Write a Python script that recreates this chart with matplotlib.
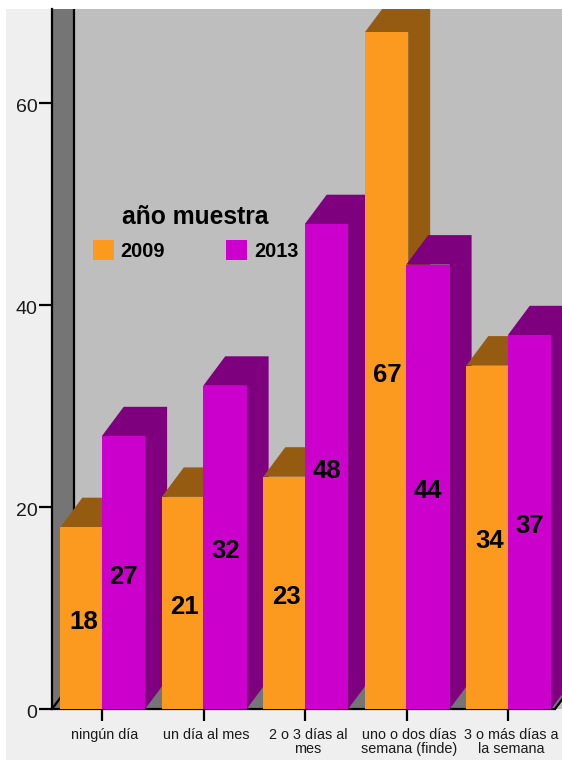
import matplotlib
matplotlib.use('Agg')
import matplotlib.pyplot as plt
from matplotlib.patches import Polygon, Rectangle
from matplotlib.transforms import ScaledTranslation

categories = ['ningún día', 'un día al mes', '2 o 3 días al\nmes',
              'uno o dos días\nsemana (finde)', '3 o más días a\nla semana']
values_2009 = [18, 21, 23, 67, 34]
values_2013 = [27, 32, 48, 44, 37]
years = ['2009', '2013']
y_ticks = [0, 20, 40, 60]

W, H = 562, 760
ORANGE, ORANGE_SIDE = '#fb9a1e', '#955b10'
MAGENTA, MAGENTA_SIDE = '#cc00cc', '#7f007f'
WALL, BACK, PANEL = '#757575', '#bebebe', '#efefef'

plt.rcParams['font.family'] = ['Liberation Sans', 'DejaVu Sans']

fig = plt.figure(figsize=(W / 100, H / 100), dpi=100, facecolor='white')
fig.patches.append(Rectangle((6 / W, 0), 1 - 6 / W, 1 - 9 / H, transform=fig.transFigure,
                             facecolor=PANEL, edgecolor='none', zorder=-5))

# axes spans x 52..562 and y 9..709 in pixels
ax = fig.add_axes([52 / W, 1 - 709 / H, 510 / W, 700 / H])
ax.set_facecolor(BACK)

px_per_cat = 101.5
px_per_unit = 10.1
x_first = 102.3
x0 = (52 - x_first) / px_per_cat
x1 = (562 - x_first) / px_per_cat
ax.set_xlim(x0, x1)
ax.set_ylim(0, 700 / px_per_unit)

bar_w = 43.4 / px_per_cat
dx = 22 / px_per_cat
dy = 29.5 / px_per_unit
nudge = 0.6 / px_per_cat
floor_end = (555 - x_first) / px_per_cat
top = 700 / px_per_unit

# left wall and floor as one shape, so there is no seam
ax.add_patch(Polygon([(x0, 0), (x0, top), (x0 + dx, top), (x0 + dx, dy),
                      (floor_end + dx, dy), (floor_end, 0)],
                     facecolor=WALL, edgecolor='none', zorder=1))
ax.plot([x0 + dx, x0 + dx], [dy, top], color='black', lw=1.6, zorder=2)
ax.plot([x0, x0 + dx], [0, dy], color='black', lw=1.6, zorder=2)
ax.plot([floor_end, floor_end + dx], [0, dy], color='black', lw=1.6, zorder=2)


def draw_bar(left, height, color, side, z):
    right = left + bar_w
    ax.add_patch(Polygon([(left, height), (left + dx, height + dy), (right + dx, height + dy),
                          (right + dx, dy), (right, 0), (right, height)],
                         facecolor=side, edgecolor='none', zorder=z))
    ax.bar(left, height, width=bar_w, align='edge', color=color, zorder=z + 0.5)


z = 3
for i in range(len(categories)):
    # the magenta bar overlaps the orange one by about 2 px
    draw_bar(i - nudge - 41.4 / px_per_cat, values_2009[i], ORANGE, ORANGE_SIDE, z)
    draw_bar(i - nudge, values_2013[i], MAGENTA, MAGENTA_SIDE, z + 1)
    z += 2

for i in range(len(categories)):
    ax.text(i - 19 / px_per_cat, values_2009[i] / 2 - 0.4, str(values_2009[i]), ha='center', va='center',
            fontsize=18.5, fontweight='bold', color='black', zorder=30)
    ax.text(i + 21.5 / px_per_cat, values_2013[i] / 2 - 0.4, str(values_2013[i]), ha='center', va='center',
            fontsize=18.5, fontweight='bold', color='black', zorder=30)

ax.set_xticks(range(len(categories)))
ax.set_xticklabels(categories, fontsize=10.4, linespacing=1.0, color='#1a1a1a')
ax.set_yticks(y_ticks)
ax.set_yticklabels([str(t) for t in y_ticks], fontsize=14, color='#1a1a1a')
ax.tick_params(axis='x', length=8.6, width=1.6, pad=5)
ax.tick_params(axis='y', length=9.4, width=1.6, pad=1)

# tick labels sit a little off their ticks in the original
x_shift = ScaledTranslation(2.5 / 100, 0, fig.dpi_scale_trans)
y_shift = ScaledTranslation(0, -2.5 / 100, fig.dpi_scale_trans)
for label in ax.get_xticklabels():
    label.set_transform(label.get_transform() + x_shift)
for label in ax.get_yticklabels():
    label.set_transform(label.get_transform() + y_shift)

for name in ['top', 'right']:
    ax.spines[name].set_visible(False)
ax.spines['left'].set_linewidth(1.6)
ax.spines['bottom'].set_linewidth(1.6)
ax.spines['bottom'].set_bounds(x0, floor_end)

handles = [Rectangle((0, 0), 1, 1, facecolor=ORANGE), Rectangle((0, 0), 1, 1, facecolor=MAGENTA)]
leg = ax.legend(handles, years, ncol=2, frameon=False, loc='center',
                bbox_to_anchor=((195.5 - 52) / 510, (709 - 233) / 700),
                prop={'size': 14.4, 'weight': 'bold'}, handlelength=1.05, handleheight=1.15,
                handletextpad=0.35, columnspacing=3.05, borderpad=0, borderaxespad=0,
                title='año muestra', title_fontproperties={'size': 17.7, 'weight': 'bold'})
leg._legend_box.sep = 8
leg.set_zorder(2.5)

fig.savefig('out.png', dpi=100, facecolor=fig.get_facecolor())
